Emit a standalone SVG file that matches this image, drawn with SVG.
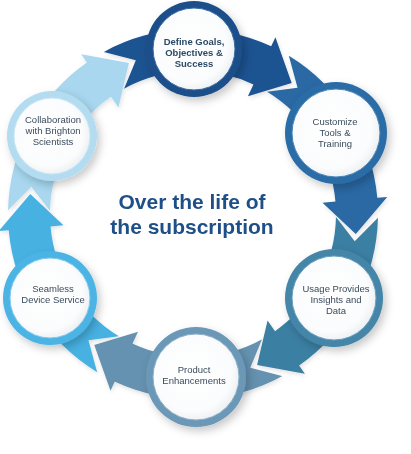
<svg xmlns="http://www.w3.org/2000/svg" xmlns:xlink="http://www.w3.org/1999/xlink" width="411" height="454" viewBox="0 0 411 454">
<style>
.lbl{font-family:"Liberation Sans",Arial,sans-serif;font-size:9.5px;fill:#3a4b5c;text-anchor:middle}
.bold{font-weight:bold;fill:#2b4a66}
.title{font-family:"Liberation Sans",Arial,sans-serif;font-size:21px;font-weight:bold;fill:#1f4f88;text-anchor:middle}
.inner{fill:url(#wg)}
</style>
<defs>
<path id="band" d="M162.12,-89.13 A185,185 0 0 1 167.67,78.18 L176.73,82.41 L130.97,98.70 L117.82,54.94 L129.60,60.43 A143,143 0 0 0 125.31,-68.90 L153.72,-57.17 Z"/>
<radialGradient id="wg" cx="0.45" cy="0.45" r="0.6">
<stop offset="0" stop-color="#ffffff"/>
<stop offset="0.75" stop-color="#fbfcfd"/>
<stop offset="1" stop-color="#e9edf1"/>
</radialGradient>
<filter id="sh" x="-30%" y="-30%" width="160%" height="160%">
<feDropShadow dx="3" dy="4" stdDeviation="4" flood-color="#000" flood-opacity="0.22"/>
</filter>
<filter id="bsh" x="-20%" y="-20%" width="140%" height="140%">
<feDropShadow dx="1" dy="2" stdDeviation="2" flood-color="#000" flood-opacity="0.12"/>
</filter>
</defs>
<rect width="411" height="454" fill="#ffffff"/>
<g id="connectors" filter="url(#bsh)">
<use xlink:href="#band" transform="translate(193,214) rotate(-90)" fill="#1c5391"/>
<use xlink:href="#band" transform="translate(193,214) rotate(-30)" fill="#2969a4"/>
<use xlink:href="#band" transform="translate(193,214) rotate(30)" fill="#3b7fa3"/>
<use xlink:href="#band" transform="translate(193,214) rotate(90)" fill="#6592b1"/>
<use xlink:href="#band" transform="translate(193,214) rotate(150)" fill="#47b2e2"/>
<use xlink:href="#band" transform="translate(193,214) rotate(210)" fill="#a8d7ef"/>
</g>
<g id="node-define" filter="url(#sh)">
<circle cx="194" cy="49" r="48" fill="#1b4f8a"/>
<circle cx="194" cy="49" r="41" class="inner" stroke="#3a6ca3" stroke-width="1"/>
<text class="lbl bold" x="194" y="45">Define Goals,</text>
<text class="lbl bold" x="194" y="56">Objectives &amp;</text>
<text class="lbl bold" x="194" y="67">Success</text>
</g>
<g id="node-customize" filter="url(#sh)">
<circle cx="336" cy="133" r="51" fill="#2b6ca6"/>
<circle cx="336" cy="133" r="44" class="inner" stroke="#4b86b8" stroke-width="1"/>
<text class="lbl" x="335" y="125">Customize</text>
<text class="lbl" x="335" y="136">Tools &amp;</text>
<text class="lbl" x="335" y="147">Training</text>
</g>
<g id="node-usage" filter="url(#sh)">
<circle cx="334" cy="298" r="49" fill="#4585a8"/>
<circle cx="334" cy="298" r="42" class="inner" stroke="#68a0bd" stroke-width="1"/>
<text class="lbl" x="336" y="292">Usage Provides</text>
<text class="lbl" x="336" y="303">Insights and</text>
<text class="lbl" x="336" y="314">Data</text>
</g>
<g id="node-product" filter="url(#sh)">
<circle cx="196" cy="377" r="50" fill="#6b98b6"/>
<circle cx="196" cy="377" r="43" class="inner" stroke="#8db1c9" stroke-width="1"/>
<text class="lbl" x="194" y="373">Product</text>
<text class="lbl" x="194" y="384">Enhancements</text>
</g>
<g id="node-seamless" filter="url(#sh)">
<circle cx="50" cy="298" r="47" fill="#4bb4e4"/>
<circle cx="50" cy="298" r="40" class="inner" stroke="#7fcaed" stroke-width="1"/>
<text class="lbl" x="53" y="292">Seamless</text>
<text class="lbl" x="53" y="303">Device Service</text>
</g>
<g id="node-collab" filter="url(#sh)">
<circle cx="52" cy="136" r="45" fill="#b3dcf1"/>
<circle cx="52" cy="136" r="38" class="inner" stroke="#cde8f6" stroke-width="1"/>
<text class="lbl" x="53" y="123">Collaboration</text>
<text class="lbl" x="53" y="134">with Brighton</text>
<text class="lbl" x="53" y="145">Scientists</text>
</g>
<g id="title">
<text class="title" x="192" y="209">Over the life of</text>
<text class="title" x="192" y="234">the subscription</text>
</g>
</svg>
